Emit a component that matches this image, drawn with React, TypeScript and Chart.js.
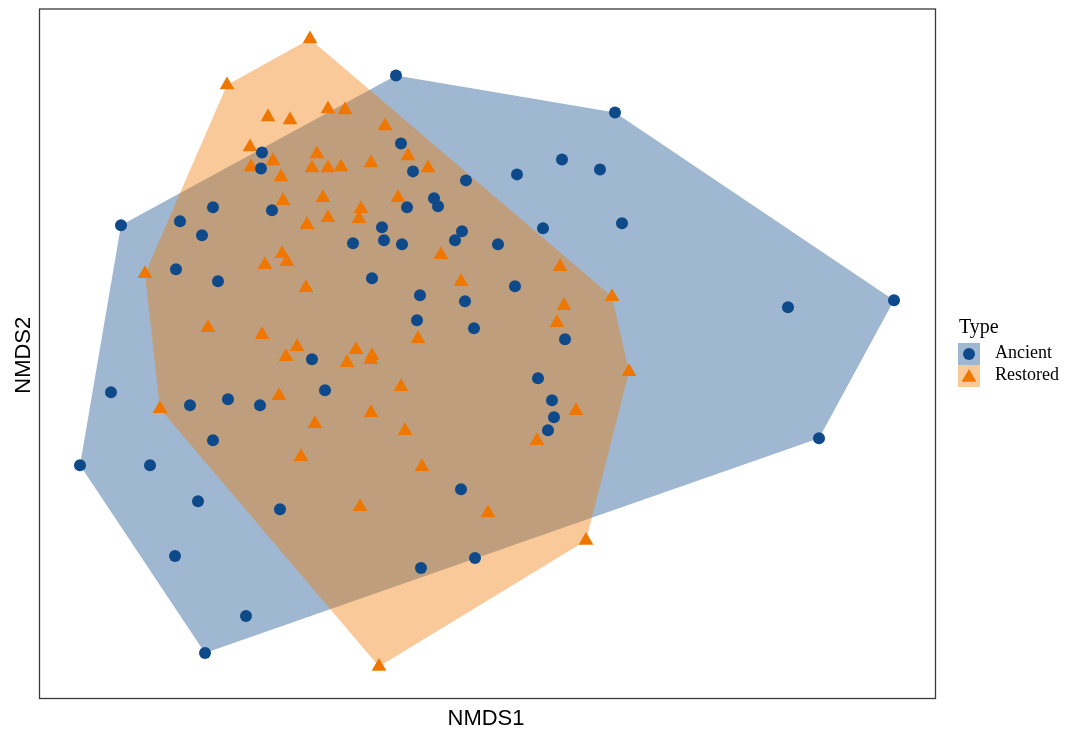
import React, { useEffect, useRef } from "react";
import { Chart, registerables } from "chart.js";

Chart.register(...registerables);

// NMDS ordination scores, one pair of arrays per site type
const ancientNMDS1 = [
  -0.182, 0.256, -0.45, -0.452, -0.172, -0.148, -0.042, 0.06, 0.15, 0.226,
  -0.732, -0.614, -0.548, -0.43, -0.57, -0.16, -0.106, -0.098, -0.21, -0.268,
  -0.206, -0.17, -0.064, -0.05, 0.022, 0.112, 0.27, -0.622, -0.538, -0.23,
  -0.134, -0.044, 0.056, -0.14, -0.026, 0.156, 0.602, 0.814, -0.35, -0.324,
  -0.752, -0.594, -0.518, -0.454, -0.548, 0.102, 0.13, 0.134, 0.122, -0.814,
  -0.674, 0.664, -0.578, -0.414, -0.052, -0.624, -0.132, -0.024, -0.482, -0.564,
];
const ancientNMDS2 = [
  0.556, 0.482, 0.402, 0.37, 0.42, 0.364, 0.346, 0.358, 0.388, 0.368,
  0.256, 0.264, 0.292, 0.286, 0.236, 0.292, 0.31, 0.294, 0.252, 0.22,
  0.226, 0.218, 0.226, 0.244, 0.218, 0.25, 0.26, 0.168, 0.144, 0.15,
  0.116, 0.104, 0.134, 0.066, 0.05, 0.028, 0.092, 0.106, -0.012, -0.074,
  -0.078, -0.104, -0.092, -0.104, -0.174, -0.05, -0.094, -0.128, -0.154, -0.224,
  -0.224, -0.17, -0.296, -0.312, -0.272, -0.406, -0.43, -0.41, -0.526, -0.6,
];
const restoredNMDS1 = [
  -0.354, -0.52, -0.438, -0.394, -0.318, -0.284, -0.204, -0.474, -0.428, -0.472,
  -0.412, -0.34, -0.35, -0.318, -0.292, -0.232, -0.158, -0.118, -0.178, -0.252,
  -0.256, -0.408, -0.328, -0.318, -0.36, -0.41, -0.4, -0.444, -0.362, -0.684,
  -0.092, -0.052, 0.146, 0.25, 0.154, 0.14, -0.558, -0.45, -0.38, -0.402,
  -0.262, -0.23, -0.232, -0.28, -0.138, 0.284, -0.172, -0.416, -0.654, -0.232,
  -0.164, -0.344, 0.178, 0.1, -0.372, -0.13, -0.254, 0.002, 0.198, -0.216,
];
const restoredNMDS2 = [
  0.629, 0.537, 0.473, 0.467, 0.489, 0.487, 0.455, 0.413, 0.385, 0.373,
  0.353, 0.399, 0.371, 0.371, 0.373, 0.381, 0.395, 0.371, 0.311, 0.289,
  0.269, 0.305, 0.311, 0.271, 0.257, 0.199, 0.183, 0.177, 0.131, 0.159,
  0.197, 0.143, 0.173, 0.113, 0.095, 0.061, 0.051, 0.037, 0.013, -0.007,
  0.007, -0.005, -0.013, -0.019, 0.029, -0.037, -0.067, -0.085, -0.111, -0.119,
  -0.155, -0.141, -0.115, -0.175, -0.207, -0.227, -0.307, -0.319, -0.375, -0.627,
];

const groupNames = ["Ancient", "Restored"];
const legendTitle = "Type";
const xTitle = "NMDS1";
const yTitle = "NMDS2";
const xLimits = [-0.896, 0.896];
const yLimits = [-0.69, 0.69];

const pointColors = ["#0e4a8a", "#ef7700"];
const hullColors = ["rgba(14,74,138,0.4)", "rgba(239,119,0,0.4)"];

const SANS = "'Liberation Sans', Arial, sans-serif";
const SERIF = "'Liberation Serif', 'Times New Roman', serif";

type P = { x: number; y: number };

// Andrew's monotone chain convex hull
function convexHull(points: P[]): P[] {
  const pts = points.slice().sort((a, b) => (a.x === b.x ? a.y - b.y : a.x - b.x));
  if (pts.length < 3) return pts;
  const cross = (o: P, a: P, b: P) => (a.x - o.x) * (b.y - o.y) - (a.y - o.y) * (b.x - o.x);
  const lower: P[] = [];
  for (const p of pts) {
    while (lower.length >= 2 && cross(lower[lower.length - 2], lower[lower.length - 1], p) <= 0) lower.pop();
    lower.push(p);
  }
  const upper: P[] = [];
  for (let i = pts.length - 1; i >= 0; i--) {
    const p = pts[i];
    while (upper.length >= 2 && cross(upper[upper.length - 2], upper[upper.length - 1], p) <= 0) upper.pop();
    upper.push(p);
  }
  upper.pop();
  lower.pop();
  return lower.concat(upper);
}

// Filled convex hull behind each group's points
const hullPlugin = {
  id: "groupHulls",
  beforeDatasetsDraw(chart: any) {
    const ctx = chart.ctx as CanvasRenderingContext2D;
    chart.data.datasets.forEach((_: any, i: number) => {
      const meta = chart.getDatasetMeta(i);
      const hull = convexHull(meta.data.map((el: any) => ({ x: el.x, y: el.y })));
      if (hull.length < 3) return;
      ctx.save();
      ctx.beginPath();
      ctx.moveTo(hull[0].x, hull[0].y);
      for (let k = 1; k < hull.length; k++) ctx.lineTo(hull[k].x, hull[k].y);
      ctx.closePath();
      ctx.fillStyle = hullColors[i];
      ctx.fill();
      ctx.restore();
    });
  },
};

function drawTriangle(ctx: CanvasRenderingContext2D, x: number, y: number, r: number) {
  ctx.beginPath();
  for (let k = 0; k < 3; k++) {
    const a = (k * 2 * Math.PI) / 3;
    const px = x + Math.sin(a) * r;
    const py = y - Math.cos(a) * r;
    if (k === 0) ctx.moveTo(px, py);
    else ctx.lineTo(px, py);
  }
  ctx.closePath();
  ctx.fill();
}

// Panel border, axis titles and the legend
const framePlugin = {
  id: "frameAndLegend",
  afterDraw(chart: any) {
    const ctx = chart.ctx as CanvasRenderingContext2D;
    const area = chart.chartArea;
    ctx.save();

    ctx.strokeStyle = "#3a3a3a";
    ctx.lineWidth = 1.3;
    ctx.strokeRect(area.left + 0.5, area.top + 0.5, area.right - area.left, area.bottom - area.top);

    ctx.fillStyle = "#000";
    ctx.font = `22px ${SANS}`;
    ctx.textAlign = "center";
    ctx.textBaseline = "alphabetic";
    ctx.fillText(xTitle, (area.left + area.right) / 2 - 1, area.bottom + 27);

    ctx.save();
    ctx.translate(area.left - 9, (area.top + area.bottom) / 2 + 2);
    ctx.rotate(-Math.PI / 2);
    ctx.fillText(yTitle, 0, 0);
    ctx.restore();

    // legend
    const lx = area.right + 23;
    ctx.textAlign = "left";
    ctx.font = `20px ${SERIF}`;
    ctx.fillStyle = "#000";
    ctx.fillText(legendTitle, lx + 1, 333);

    const keyW = 22;
    const keyH = 22;
    const keyTop = 343;
    groupNames.forEach((name, i) => {
      const ky = keyTop + i * keyH;
      ctx.fillStyle = hullColors[i];
      ctx.fillRect(lx, ky, keyW, keyH);
      ctx.fillStyle = pointColors[i];
      const cx = lx + keyW / 2;
      const cy = ky + keyH / 2;
      if (i === 0) {
        ctx.beginPath();
        ctx.arc(cx, cy, 6, 0, Math.PI * 2);
        ctx.fill();
      } else {
        drawTriangle(ctx, cx, cy + 1.5, 8.5);
      }
      ctx.fillStyle = "#000";
      ctx.font = `18px ${SERIF}`;
      ctx.fillText(name, lx + 37, ky + 15);
    });

    ctx.restore();
  },
};

export default function App() {
  const canvasRef = useRef<HTMLCanvasElement | null>(null);

  useEffect(() => {
    const canvas = canvasRef.current;
    if (!canvas) return;

    const ancient = ancientNMDS1.map((x, i) => ({ x, y: ancientNMDS2[i] }));
    const restored = restoredNMDS1.map((x, i) => ({ x, y: restoredNMDS2[i] }));

    const chart = new Chart(canvas, {
      type: "scatter",
      data: {
        datasets: [
          {
            label: groupNames[0],
            data: ancient,
            pointStyle: "circle",
            pointRadius: 6,
            pointBackgroundColor: pointColors[0],
            pointBorderWidth: 0,
            pointBorderColor: pointColors[0],
          },
          {
            label: groupNames[1],
            data: restored,
            pointStyle: "triangle",
            pointRadius: 8.5,
            pointBackgroundColor: pointColors[1],
            pointBorderWidth: 0,
            pointBorderColor: pointColors[1],
          },
        ],
      },
      options: {
        responsive: false,
        animation: false,
        events: [],
        layout: { padding: { left: 39, top: 8, right: 133, bottom: 33 } },
        plugins: {
          legend: { display: false },
          tooltip: { enabled: false },
        },
        scales: {
          x: { type: "linear", min: xLimits[0], max: xLimits[1], display: false },
          y: { type: "linear", min: yLimits[0], max: yLimits[1], display: false },
        },
      },
      plugins: [hullPlugin, framePlugin],
    });

    return () => chart.destroy();
  }, []);

  return (
    <div style={{ position: "absolute", left: 0, top: 0, width: 1068, height: 731, background: "#fff" }}>
      <canvas ref={canvasRef} width={1068} height={731} style={{ width: 1068, height: 731, display: "block" }} />
    </div>
  );
}
